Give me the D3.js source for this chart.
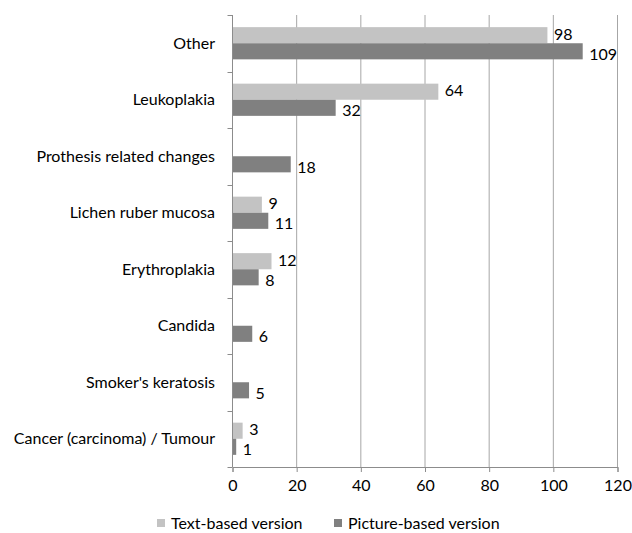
<!DOCTYPE html>
<html><head><meta charset="utf-8">
<script src="https://cdn.jsdelivr.net/npm/d3@7"></script>
<style>body{margin:0;background:#fff}svg{display:block}text{font-family:Lato,"Open Sans",sans-serif}</style>
</head><body><svg id="c" width="632" height="533"></svg>
<script>
const categories = ["Other","Leukoplakia","Prothesis related changes","Lichen ruber mucosa","Erythroplakia","Candida","Smoker's keratosis","Cancer (carcinoma) / Tumour"];
const textBased = [98,64,null,9,12,null,null,3];
const pictureBased = [109,32,18,11,8,6,5,1];
const seriesNames = ["Text-based version","Picture-based version"];
const seriesColors = ["#c3c3c3","#808080"];
const xTicks = [0,20,40,60,80,100,120];

const svg = d3.select("#c");
const L=232.5, R=617.5, T=15, B=467;
const FS=16;
const x = d3.scaleLinear().domain([0,120]).range([L,R]);
const y = d3.scaleBand().domain(categories).range([T,B]).paddingInner(0.43).paddingOuter(0.215);
const inner = d3.scaleBand().domain([0,1]).range([0,y.bandwidth()]);

// gridlines
svg.append("g").selectAll("line").data(xTicks.slice(1)).join("line")
  .attr("x1",d=>x(d)).attr("x2",d=>x(d)).attr("y1",T).attr("y2",B)
  .attr("stroke","#a6a6a6").attr("stroke-width",1);

// x axis
const xa = svg.append("g").attr("transform",`translate(0,${B})`)
  .call(d3.axisBottom(x).tickValues(xTicks).tickSize(5).tickPadding(8));
xa.select(".domain").attr("stroke","#8c8c8c");
xa.selectAll(".tick line").attr("stroke","#8c8c8c");
xa.selectAll("text").attr("font-size",FS).attr("fill","#000");

// y axis with boundary ticks
const yb = d3.scaleLinear().domain([0,categories.length]).range([T,B]);
svg.append("line").attr("x1",L).attr("x2",L).attr("y1",T).attr("y2",B).attr("stroke","#8c8c8c");
svg.append("g").selectAll("line").data(d3.range(categories.length+1)).join("line")
  .attr("x1",L-5).attr("x2",L).attr("y1",d=>Math.round(yb(d))+0.5).attr("y2",d=>Math.round(yb(d))+0.5)
  .attr("stroke","#8c8c8c");
svg.append("g").selectAll("text").data(categories).join("text")
  .attr("x",215).attr("y",d=>y(d)+y.bandwidth()/2).attr("dy","0.35em")
  .attr("text-anchor","end").attr("font-size",FS).attr("fill","#000").text(d=>d);

const series=[textBased,pictureBased];
series.forEach((vals,si)=>{
  const data = categories.map((c,i)=>({c,v:vals[i]})).filter(d=>d.v!=null);
  const g = svg.append("g");
  g.selectAll("rect").data(data).join("rect")
    .attr("x",x(0)+0.5).attr("y",d=>y(d.c)+inner(si))
    .attr("width",d=>x(d.v)-x(0)).attr("height",inner.bandwidth())
    .attr("fill",seriesColors[si]);
  g.selectAll("text").data(data).join("text")
    .attr("x",d=>x(d.v)+7).attr("y",d=>y(d.c)+inner(si)+inner.bandwidth()/2 + (si===0?-1:3)).attr("dy","0.35em")
    .attr("font-size",FS).attr("fill","#000").text(d=>d.v);
});

// legend
const lg = svg.append("g");
const lx=[157,334];
seriesNames.forEach((n,i)=>{
  lg.append("rect").attr("x",lx[i]).attr("y",519).attr("width",8).attr("height",8).attr("fill",seriesColors[i]);
  lg.append("text").attr("x",lx[i]+14).attr("y",523).attr("dy","0.35em").attr("font-size",FS).attr("fill","#000").text(n);
});
</script></body></html>
